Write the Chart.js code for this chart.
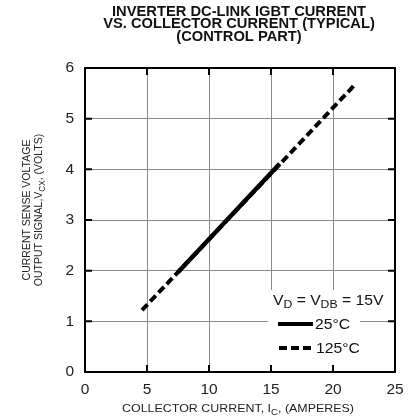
<!DOCTYPE html>
<html>
<head>
<meta charset="utf-8">
<script src="https://cdn.jsdelivr.net/npm/chart.js@4"></script>
<style>
  html, body { margin: 0; padding: 0; background: #fff; }
</style>
</head>
<body>
<canvas id="chart" width="417" height="420"></canvas>
<script>
const titleLines = ['INVERTER DC-LINK IGBT CURRENT', 'VS. COLLECTOR CURRENT (TYPICAL)', '(CONTROL PART)'];
const xTicks = [0, 5, 10, 15, 20, 25];
const yTicks = [0, 1, 2, 3, 4, 5, 6];
const seriesNames = ['25°C', '125°C'];
const current25 = [7.5, 15.7];
const volts25 = [1.97, 4.11];
const current125 = [4.6, 21.8];
const volts125 = [1.22, 5.68];

const FONT = '"Liberation Sans", Arial, sans-serif';

// draws a run of [text, isSubscript] pieces, stretched a little sideways like the scan
function drawRuns(ctx, runs, x, y, size, align, stretch, weight) {
  const subSize = size * 0.78;
  const w = weight ? weight + ' ' : '';
  let total = 0;
  runs.forEach(([t, sub]) => {
    ctx.font = w + (sub ? subSize : size) + 'px ' + FONT;
    total += ctx.measureText(t).width;
  });
  ctx.save();
  ctx.translate(x, y);
  ctx.scale(stretch || 1, 1);
  let cx = align === 'left' ? 0 : -total / 2;
  ctx.textAlign = 'left';
  ctx.textBaseline = 'middle';
  runs.forEach(([t, sub]) => {
    ctx.font = w + (sub ? subSize : size) + 'px ' + FONT;
    ctx.fillText(t, cx, sub ? size * 0.3 : 0);
    cx += ctx.measureText(t).width;
  });
  ctx.restore();
}

const decor = {
  id: 'decor',
  afterDraw(chart) {
    const { ctx, chartArea: a, scales } = chart;
    ctx.save();

    // frame
    ctx.strokeStyle = '#000';
    ctx.lineWidth = 2;
    ctx.strokeRect(a.left, a.top, a.right - a.left, a.bottom - a.top);

    // inner ticks on all four sides
    const len = 7;
    ctx.beginPath();
    xTicks.forEach(v => {
      const px = scales.x.getPixelForValue(v);
      ctx.moveTo(px, a.top); ctx.lineTo(px, a.top + len);
      ctx.moveTo(px, a.bottom); ctx.lineTo(px, a.bottom - len);
    });
    yTicks.forEach(v => {
      const py = scales.y.getPixelForValue(v);
      ctx.moveTo(a.left, py); ctx.lineTo(a.left + len, py);
      ctx.moveTo(a.right, py); ctx.lineTo(a.right - len, py);
    });
    ctx.stroke();

    // legend
    ctx.fillStyle = '#fff';
    ctx.fillRect(268, 290, 120, 22);
    ctx.fillRect(268, 312, 92, 24);
    ctx.fillRect(268, 336, 98, 29);
    ctx.fillStyle = '#111';
    drawRuns(ctx, [['V', false], ['D', true], [' = V', false], ['DB', true], [' = 15V', false]], 273, 301, 14, 'left', 1.12);
    ctx.lineWidth = 4;
    ctx.strokeStyle = '#000';
    ctx.beginPath(); ctx.moveTo(278, 324); ctx.lineTo(313, 324); ctx.stroke();
    ctx.setLineDash([8, 4]);
    ctx.beginPath(); ctx.moveTo(279, 348); ctx.lineTo(313, 348); ctx.stroke();
    ctx.setLineDash([]);
    drawRuns(ctx, [[seriesNames[0], false]], 315, 325, 14, 'left', 1.12);
    drawRuns(ctx, [[seriesNames[1], false]], 316, 349, 14, 'left', 1.12);

    // title
    titleLines.forEach((t, i) => drawRuns(ctx, [[t, false]], 239, 12 + i * 12.5, 14, 'center', 1.05, 'bold'));

    // axis titles
    ctx.fillStyle = '#222';
    drawRuns(ctx, [['COLLECTOR CURRENT, I', false], ['C', true], [', (AMPERES)', false]], 238, 409, 11, 'center', 1.13);
    ctx.translate(33, 210);
    ctx.rotate(-Math.PI / 2);
    drawRuns(ctx, [['CURRENT SENSE VOLTAGE', false]], 0, -6.3, 10.5, 'center');
    drawRuns(ctx, [['OUTPUT SIGNAL,V', false], ['CX', true], [', (VOLTS)', false]], 0, 6.3, 10.5, 'center');

    ctx.restore();
  }
};

new Chart(document.getElementById('chart'), {
  type: 'scatter',
  data: {
    datasets: [
      {
        label: seriesNames[0],
        data: current25.map((x, i) => ({ x, y: volts25[i] })),
        showLine: true,
        borderColor: '#000',
        borderWidth: 4.5,
        pointRadius: 0,
        order: 0,
      },
      {
        label: seriesNames[1],
        data: current125.map((x, i) => ({ x, y: volts125[i] })),
        showLine: true,
        borderColor: '#000',
        borderWidth: 4,
        borderDash: [8, 4],
        pointRadius: 0,
        order: 1,
      },
    ],
  },
  options: {
    responsive: false,
    animation: false,
    layout: { padding: { top: 68, right: 22, left: 0, bottom: 0 } },
    scales: {
      x: {
        type: 'linear',
        min: 0,
        max: 25,
        afterFit: s => { s.height = 48; },
        afterBuildTicks: s => { s.ticks = xTicks.map(v => ({ value: v })); },
        border: { display: false },
        grid: { color: '#8a8a8a', lineWidth: 1, drawTicks: false },
        ticks: { color: '#222', font: { size: 15.5, family: FONT }, padding: 8 },
      },
      y: {
        type: 'linear',
        min: 0,
        max: 6,
        afterFit: s => { s.width = 85; },
        afterBuildTicks: s => { s.ticks = yTicks.map(v => ({ value: v })); },
        border: { display: false },
        grid: { color: '#8a8a8a', lineWidth: 1, drawTicks: false },
        ticks: { color: '#222', font: { size: 15.5, family: FONT }, padding: 11 },
      },
    },
    plugins: {
      legend: { display: false },
      tooltip: { enabled: false },
    },
  },
  plugins: [decor],
});
</script>
</body>
</html>
